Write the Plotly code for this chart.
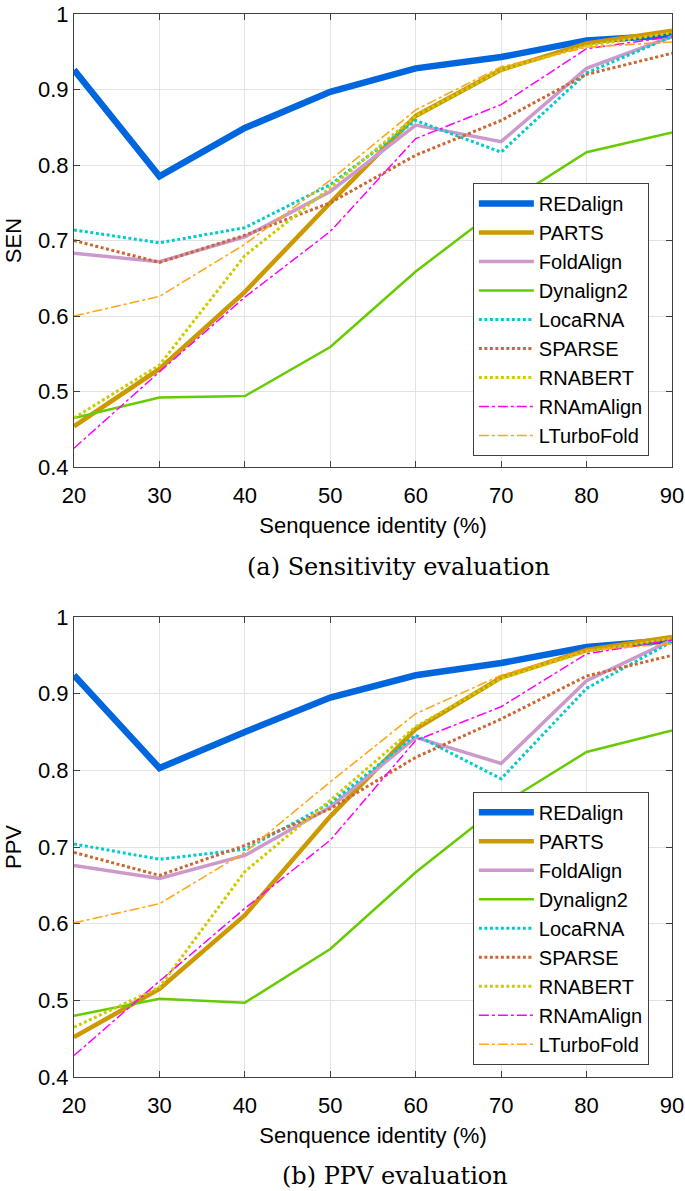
import plotly.graph_objects as go

# sequence identity (%)
identity = [20, 30, 40, 50, 60, 70, 80, 90]

methods = ["REDalign", "PARTS", "FoldAlign", "Dynalign2", "LocaRNA",
           "SPARSE", "RNABERT", "RNAmAlign", "LTurboFold"]

# (a) sensitivity
sen_redalign = [0.926, 0.785, 0.849, 0.897, 0.928, 0.943, 0.965, 0.972]
sen_parts = [0.454, 0.530, 0.632, 0.750, 0.865, 0.926, 0.961, 0.978]
sen_foldalign = [0.683, 0.672, 0.705, 0.765, 0.853, 0.831, 0.928, 0.970]
sen_dynalign2 = [0.465, 0.492, 0.494, 0.559, 0.659, 0.745, 0.817, 0.843]
sen_locarna = [0.714, 0.697, 0.717, 0.774, 0.859, 0.817, 0.922, 0.970]
sen_sparse = [0.700, 0.671, 0.707, 0.750, 0.813, 0.859, 0.920, 0.948]
sen_rnabert = [0.465, 0.535, 0.680, 0.770, 0.865, 0.926, 0.958, 0.975]
sen_rnamalign = [0.425, 0.526, 0.625, 0.712, 0.835, 0.880, 0.954, 0.970]
sen_lturbofold = [0.600, 0.626, 0.695, 0.780, 0.873, 0.930, 0.956, 0.963]

# (b) PPV
ppv_redalign = [0.924, 0.803, 0.850, 0.895, 0.924, 0.940, 0.961, 0.970]
ppv_parts = [0.452, 0.515, 0.611, 0.740, 0.854, 0.921, 0.957, 0.974]
ppv_foldalign = [0.676, 0.659, 0.689, 0.752, 0.843, 0.809, 0.917, 0.970]
ppv_dynalign2 = [0.480, 0.502, 0.497, 0.567, 0.667, 0.755, 0.824, 0.852]
ppv_locarna = [0.704, 0.684, 0.697, 0.757, 0.846, 0.789, 0.907, 0.968]
ppv_sparse = [0.693, 0.663, 0.702, 0.750, 0.817, 0.867, 0.923, 0.950]
ppv_rnabert = [0.465, 0.517, 0.668, 0.761, 0.857, 0.920, 0.955, 0.972]
ppv_rnamalign = [0.428, 0.525, 0.620, 0.709, 0.839, 0.883, 0.952, 0.970]
ppv_lturbofold = [0.601, 0.626, 0.693, 0.785, 0.874, 0.924, 0.957, 0.965]

sen_values = [sen_redalign, sen_parts, sen_foldalign, sen_dynalign2, sen_locarna,
              sen_sparse, sen_rnabert, sen_rnamalign, sen_lturbofold]
ppv_values = [ppv_redalign, ppv_parts, ppv_foldalign, ppv_dynalign2, ppv_locarna,
              ppv_sparse, ppv_rnabert, ppv_rnamalign, ppv_lturbofold]

# colour, width, dash per method
styles = [
    ("#0066dd", 6.5, "solid"),
    ("#cc9900", 4.5, "solid"),
    ("#cc99cc", 3.5, "solid"),
    ("#66cc00", 2.5, "solid"),
    ("#00cccc", 3, "3px,2.5px"),
    ("#cc6633", 3, "3px,2.5px"),
    ("#cccc00", 3, "3px,2.5px"),
    ("#ff00ff", 1.5, "10px,3px,3px,3px"),
    ("#ffa61a", 1.6, "10px,3px,3px,3px"),
]

FONT = "Liberation Sans, Arial, sans-serif"
SERIF = "DejaVu Serif, serif"

fig = go.Figure()

for name, vals, (color, width, dash) in zip(methods, sen_values, styles):
    fig.add_trace(go.Scatter(x=identity, y=vals, name=name, mode="lines",
                             line=dict(color=color, width=width, dash=dash),
                             xaxis="x", yaxis="y", legend="legend"))

for name, vals, (color, width, dash) in zip(methods, ppv_values, styles):
    fig.add_trace(go.Scatter(x=identity, y=vals, name=name, mode="lines",
                             line=dict(color=color, width=width, dash=dash),
                             xaxis="x2", yaxis="y2", legend="legend2"))

axis_common = dict(
    showline=True, linecolor="#404040", linewidth=1, mirror="ticks",
    ticks="inside", ticklen=6, tickcolor="#404040", automargin=False,
    showgrid=True, gridcolor="#e3e3e3", gridwidth=1, zeroline=False,
    ticklabeloverflow="allow",
    tickfont=dict(family=FONT, size=22, color="black"),
)
xax = dict(axis_common, range=[20, 90], dtick=10, tick0=20, ticklabelstandoff=9,
           title=dict(text="Senquence identity (%)", standoff=10,
                      font=dict(family=FONT, size=22, color="black")))
yax = dict(axis_common, range=[0.4, 1.0], dtick=0.1, tick0=0.4)

legend_common = dict(
    x=0.667, xanchor="left", yanchor="top",
    bgcolor="white", bordercolor="#404040", borderwidth=1,
    font=dict(family=FONT, size=20, color="black"),
    itemwidth=55, itemclick=False,
)

fig.update_layout(
    width=685, height=1191,
    margin=dict(l=74, r=13, t=14, b=114),
    plot_bgcolor="white", paper_bgcolor="white",
    showlegend=True,
    xaxis=dict(xax, domain=[0, 1], anchor="y"),
    yaxis=dict(yax, domain=[0.5738, 1.0], anchor="x",
               title=dict(text="SEN", standoff=10,
                          font=dict(family=FONT, size=22, color="black"))),
    xaxis2=dict(xax, domain=[0, 1], anchor="y2"),
    yaxis2=dict(yax, domain=[0.0, 0.4327], anchor="x2",
                title=dict(text="PPV", standoff=10,
                           font=dict(family=FONT, size=22, color="black"))),
    legend=dict(legend_common, y=0.841),
    legend2=dict(legend_common, y=0.2684),
    annotations=[
        dict(text="(a) Sensitivity evaluation", x=0.542, y=0.4798,
             xref="paper", yref="paper", xanchor="center", yanchor="middle",
             showarrow=False,
             font=dict(family=SERIF, size=24, color="black")),
        dict(text="(b) PPV evaluation", x=0.536, y=-0.0931,
             xref="paper", yref="paper", xanchor="center", yanchor="middle",
             showarrow=False,
             font=dict(family=SERIF, size=24, color="black")),
    ],
)

# page body margin off so the figure sits at the window corner
fig.write_html("out.html", config={"displayModeBar": False},
               post_script="document.body.style.margin='0';")
